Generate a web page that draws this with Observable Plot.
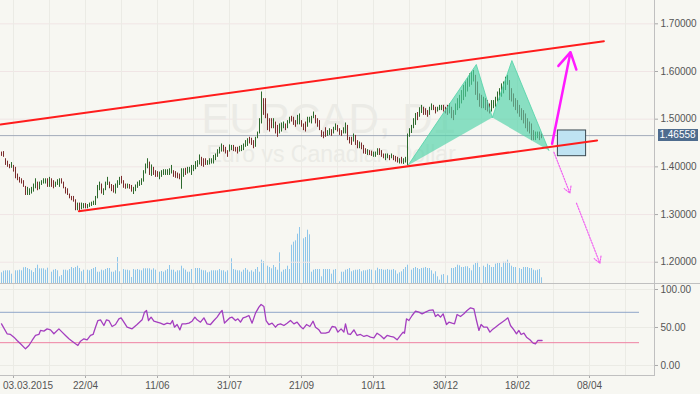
<!DOCTYPE html>
<html><head><meta charset="utf-8">
<script src="https://cdn.jsdelivr.net/npm/d3@7"></script>
<script src="https://cdn.jsdelivr.net/npm/@observablehq/plot@0.6"></script>
<style>
body{margin:0;background:#f7f7f2;}
#chart{position:relative;width:700px;height:394px;background:#f7f7f2;overflow:hidden;font-family:"Liberation Sans",Arial,sans-serif;}
#chart svg{position:absolute;left:0;}
.ln{position:absolute;background:#c0c0c0;}
#curlab{position:absolute;background:#4e6c8e;color:#fff;font-size:10px;text-align:center;}
</style></head><body><div id="chart"></div>
<script>
// ---- OHLC bars (daily, EURCAD) ----
const hi = [
1.431,1.432,1.417,1.412,1.405,1.409,1.403,1.399,1.385,1.378,
1.375,1.371,1.359,1.357,1.354,1.357,1.364,1.375,1.368,1.368,
1.371,1.375,1.375,1.375,1.378,1.375,1.371,1.368,1.373,1.375,
1.375,1.368,1.357,1.354,1.343,1.338,1.338,1.331,1.324,1.324,
1.324,1.323,1.323,1.321,1.324,1.326,1.328,1.338,1.361,1.368,
1.364,1.354,1.368,1.378,1.368,1.363,1.361,1.364,1.371,1.378,
1.380,1.371,1.364,1.364,1.363,1.361,1.357,1.362,1.368,1.371,
1.375,1.392,1.406,1.417,1.410,1.404,1.399,1.392,1.390,1.389,
1.392,1.394,1.394,1.394,1.396,1.403,1.392,1.390,1.387,1.385,
1.396,1.396,1.397,1.399,1.399,1.403,1.403,1.411,1.413,1.425,
1.420,1.417,1.417,1.413,1.417,1.417,1.424,1.427,1.436,1.441,
1.448,1.445,1.441,1.434,1.446,1.445,1.445,1.441,1.441,1.443,
1.445,1.448,1.455,1.459,1.462,1.460,1.455,1.462,1.473,1.501,
1.557,1.543,1.543,1.511,1.501,1.501,1.501,1.494,1.487,1.490,
1.492,1.494,1.490,1.497,1.504,1.506,1.504,1.497,1.508,1.511,
1.497,1.490,1.494,1.504,1.504,1.506,1.515,1.508,1.501,1.497,
1.476,1.473,1.482,1.476,1.480,1.478,1.483,1.490,1.487,1.480,
1.476,1.482,1.492,1.487,1.462,1.462,1.469,1.466,1.455,1.452,
1.450,1.445,1.438,1.436,1.434,1.433,1.431,1.431,1.438,1.438,
1.434,1.427,1.427,1.427,1.424,1.427,1.424,1.422,1.420,1.417,
1.420,1.417,1.420,1.469,1.480,1.487,1.501,1.512,1.514,1.524,
1.529,1.525,1.522,1.518,1.525,1.532,1.529,1.525,1.525,1.529,
1.529,1.529,1.525,1.529,1.532,1.525,1.518,1.532,1.543,1.550,
1.560,1.571,1.578,1.585,1.595,1.599,1.602,1.592,1.578,1.553,
1.550,1.546,1.543,1.539,1.532,1.539,1.539,1.546,1.557,1.564,
1.574,1.578,1.588,1.592,1.581,1.564,1.553,1.543,1.539,1.529,
1.522,1.518,1.511,1.501,1.494,1.490,1.476,1.473,1.473,1.473,
1.469];
const lo = [
1.422,1.420,1.403,1.399,1.396,1.397,1.389,1.375,1.371,1.366,
1.364,1.357,1.340,1.340,1.340,1.343,1.347,1.354,1.350,1.352,
1.361,1.364,1.364,1.357,1.357,1.357,1.354,1.357,1.361,1.357,
1.364,1.354,1.343,1.340,1.333,1.329,1.326,1.308,1.308,1.305,
1.310,1.312,1.312,1.312,1.315,1.317,1.319,1.319,1.333,1.350,
1.343,1.340,1.350,1.361,1.354,1.348,1.345,1.343,1.355,1.361,
1.364,1.355,1.353,1.354,1.353,1.347,1.342,1.348,1.355,1.359,
1.361,1.368,1.385,1.396,1.382,1.380,1.382,1.378,1.378,1.373,
1.378,1.382,1.382,1.382,1.382,1.385,1.378,1.376,1.375,1.373,
1.353,1.378,1.382,1.385,1.387,1.382,1.390,1.394,1.399,1.404,
1.401,1.399,1.403,1.403,1.404,1.406,1.406,1.413,1.420,1.427,
1.431,1.431,1.427,1.420,1.431,1.434,1.432,1.431,1.427,1.431,
1.432,1.434,1.441,1.443,1.448,1.445,1.438,1.441,1.459,1.469,
1.490,1.508,1.501,1.476,1.473,1.480,1.480,1.469,1.462,1.469,
1.473,1.480,1.476,1.480,1.490,1.494,1.487,1.483,1.488,1.488,
1.483,1.476,1.473,1.483,1.492,1.490,1.501,1.490,1.483,1.476,
1.462,1.459,1.462,1.464,1.466,1.464,1.469,1.476,1.473,1.466,
1.464,1.469,1.469,1.455,1.448,1.445,1.452,1.445,1.438,1.438,
1.436,1.427,1.426,1.424,1.424,1.422,1.420,1.420,1.424,1.424,
1.420,1.417,1.413,1.417,1.413,1.417,1.413,1.410,1.408,1.406,
1.406,1.405,1.408,1.403,1.462,1.470,1.480,1.487,1.497,1.504,
1.512,1.508,1.508,1.504,1.508,1.518,1.518,1.511,1.515,1.518,
1.518,1.515,1.511,1.508,1.511,1.501,1.497,1.508,1.518,1.522,
1.532,1.539,1.546,1.557,1.567,1.571,1.578,1.550,1.539,1.525,
1.522,1.522,1.518,1.515,1.511,1.515,1.522,1.525,1.536,1.539,
1.546,1.553,1.560,1.571,1.539,1.536,1.525,1.518,1.511,1.504,
1.497,1.490,1.480,1.473,1.469,1.455,1.455,1.455,1.459,1.455,
1.459];
// 1 = bullish bar, 0 = bearish bar
const up = [
0,0,0,0,0,1,0,0,0,0, 0,0,0,1,1,1,1,1,0,1, 1,1,1,0,1,0,0,1,1,1, 0,0,0,0,0,0,0,0,1,0,
1,1,0,1,1,1,1,1,1,1, 0,1,1,1,0,0,0,1,1,1, 0,0,0,1,0,0,1,1,1,1, 1,1,1,1,0,1,0,0,0,1,
1,1,1,1,1,1,0,0,0,0, 1,1,0,1,1,1,1,1,1,1, 0,0,0,1,1,1,1,1,1,1, 1,0,0,0,1,1,0,0,0,1,
1,1,1,1,0,0,0,1,1,1, 1,0,0,0,0,0,1,0,0,1, 1,1,0,1,1,0,0,0,1,1, 0,0,0,1,1,1,1,0,0,0,
0,0,0,1,1,0,1,1,0,0, 0,1,1,0,0,0,1,0,0,1, 0,0,0,1,0,0,1,1,1,0, 0,0,1,1,0,1,0,0,0,1,
0,1,1,1,1,1,1,1,0,1, 1,0,0,0,1,1,0,0,1,1, 1,0,0,0,1,0,0,1,1,1, 1,1,1,1,1,1,1,0,0,0,
0,1,0,0,0,1,1,1,1,1, 1,1,1,1,0,0,0,0,0,0, 0,0,0,0,0,0,0,1,1,0, 0];
// tick volume (relative units)
const volume = [
10.7,12.3,12.7,12.7,12.7,9.3,11.3,12.7,12.7,13.3,
12.7,15.7,16,15,14,12.7,11,15,18.3,14.7,
14.7,14.7,13.3,15.3,14,11.3,13.3,14,12.7,6.7,
8,13.3,13.3,12.7,14,16,15,16,17.3,15,
11.7,13.3,13.3,13.3,12.7,14,15,16,11.3,11.3,
13.3,12.7,14,15,15,11.3,11.3,12.7,26,11.7,
12.7,14,13.3,13.3,12.7,6,14,13.3,14,13.3,
12.7,14.7,14.7,14.7,14.7,13.3,14.7,13.3,12,11.3,
12,11.3,12.7,14,18,13.3,13.3,11.3,12.7,12.7,
17.3,14.7,13.3,11.3,11.3,14,16,15,15,15,
13.3,12.7,12.7,10.7,11.3,12.7,12.7,12.7,12.7,14,
12.7,12.7,11.3,12.7,14,24.7,14,13.3,12.7,12.7,
11.3,13.3,15,13.3,11.3,12.7,11.3,14,16,11.3,
23.3,22,21.3,17.3,16,14.7,18,16,13.3,30.7,
11.3,13.3,14,17.3,14,38.3,41.3,42.7,49.3,56,
45,44.7,46,53.3,48.7,11.3,13.3,14,14,14,
6.7,14,14,14,14,9.3,13.3,14,14,1.7,
11.3,11.3,13.3,14,15,11.7,12.7,13.3,13.3,14,
11.7,12.7,12.7,13.3,14,13.3,11.7,12.7,15.3,14,
14,13.3,13.3,14,13.3,13.3,14,12.7,9.3,10.7,
11.7,14,16,18.3,18.3,13.3,15,16,15,14,
15,15.3,16,15,15,12.7,9.3,11.7,6.7,3.3,
8.3,9,9,7.7,0,15,15,16,18.3,17.7,
16,16,16.7,16.7,15,12.7,18.3,20,21.3,16,
16,17.3,16,19.3,18,16,16,19.3,20,20,
16,21.3,21.3,23.3,20,17.3,16,16,16,15,
14,16,16,16,15,15,13.3,12.7,13.3,14,
5.7];
// RSI readings (bar position, value)
const rsiBar = [0,2.8,4.5,6.2,7.8,9.5,12,13.7,15.3,17,18.7,19.5,21.2,22.8,24.5,26.2,28.7,30.3,32,33.7,
35.3,37,38.2,39.5,41.2,42.8,44.5,45.8,47,48.2,49.5,51.2,52.5,53.7,55.3,57,58.7,59.8,61.2,62.8,
65.3,67.8,70.3,71.5,72.5,73.5,74.8,76.2,77.8,79.5,81.2,82.8,84.5,85.5,86.5,87.8,89.2,90.3,92,93.7,
95.3,96.7,97.8,99.5,101.2,102.8,104.5,106.2,107.8,109.5,110.3,111.5,112.8,114.2,115.3,117,118.2,119.5,120.8,122,
123.7,125.3,127,128.7,129.8,131.2,132.3,133.7,135.3,137,138.2,139.5,141.2,142.8,144.5,146.2,147.8,149.5,150.8,152.5,
154.2,155.8,157,158.7,159.8,162,163.7,165.3,167,168.2,169.8,171.2,172,173.2,174.5,
176.2,177.8,179.5,181.2,182.8,184.5,186.2,187.8,189.5,191.2,192.8,194.5,196.2,197.8,199.5,200.8,201.5,202.5,203.7,205.3,
207,208.7,210.3,212,213.7,215.8,217,218.2,219.5,220.8,222.5,223.7,225.3,226.5,227.8,229.5,231.2,232.8,234.5,236.2,
237.5,238.7,239.8,241.2,242.8,244.2,245.3,247,248.7,250.3,252,253.2,254.5,256.2,257.5,258.7,259.8,261.2,262.5,264.2,
265.8,267,268.2,270.3];
const rsiVal = [54.8,41.7,40.8,37.3,32.9,28.5,21.9,26.3,32.9,39.5,40.8,46.1,45.2,48.2,46.9,41.7,48.2,43.9,39.5,35.1,
32.0,28.5,26.3,32.0,35.1,33.8,39.5,40.8,50.4,59.2,60.1,52.6,60.1,59.2,51.3,53.9,61.4,62.7,57.0,50.4,
48.2,53.9,60.1,70.2,72.4,59.2,63.6,58.3,57.0,55.7,53.9,55.7,54.8,59.2,50.4,53.9,46.9,54.8,54.8,55.7,
58.3,63.6,60.1,57.0,62.7,54.8,53.9,59.2,63.6,70.2,72.4,55.7,59.2,62.7,63.6,59.2,61.4,57.0,62.7,63.6,
65.8,55.7,68.9,76.8,80.3,77.6,59.2,53.9,55.7,50.4,53.9,54.8,52.6,55.7,59.2,54.8,57.0,51.3,48.2,53.9,
51.3,58.3,50.4,46.9,42.5,42.5,43.9,51.3,50.4,43.9,48.2,43.9,54.8,41.7,40.8,
46.9,39.5,40.8,38.2,39.5,37.3,36.4,42.5,39.5,35.1,39.5,38.2,37.3,33.8,39.5,43.9,42.5,61.4,59.2,65.8,
71.5,70.2,68.0,70.2,72.4,73.2,64.5,67.1,63.6,68.0,53.9,57.0,55.7,54.8,67.1,64.5,68.0,72.4,75.9,74.6,
59.2,46.1,53.9,50.4,50.4,43.9,46.9,50.4,53.9,57.0,60.1,62.7,52.6,46.9,41.7,46.1,40.8,42.5,37.3,33.8,
29.4,28.5,32.9,32.9];
const rsiLevels = [70, 30];
// axes
const tickBars = [6, 42, 78, 114, 150, 186, 222, 258, 294];
const tickLabels = ["03.03.2015","22/04","11/06","31/07","21/09","10/11","30/12","18/02","08/04"];
const priceTicks = [1.2, 1.3, 1.4, 1.5, 1.6, 1.7];
const rsiTicks = [0, 50, 100];
const current = 1.46558;
const symbol = "EURCAD, D1";
const description = "Euro vs Canadian Dollar";
// drawings (bar position, price)
const channelBar   = [-0.5, 301.2, 38.7, 297.8];
const channelPrice = [1.4888, 1.6635, 1.3070, 1.4553];
const channelName  = ["upper","upper","lower","lower"];
const patternName  = ["X","A","B","C","D"];
const patternBar   = [203.2, 237.4, 245.4, 255.2, 273.7];
const patternPrice = [1.4028, 1.6147, 1.5035, 1.6230, 1.4343];
const targetBox = {bar1: 278.2, bar2: 292.3, price1: 1.4224, price2: 1.4763};
const bullArrow = [{bar1: 275.3, price1: 1.4484, bar2: 284.5, price2: 1.6405}];
const bearArrows = [
  {bar1: 276.2, price1: 1.4307, bar2: 284.2, price2: 1.3449},
  {bar1: 287.5, price1: 1.3238, bar2: 299.2, price2: 1.1979}
];

// ---- build ----
const bars = hi.map((h, i) => ({i, hi: h, lo: lo[i], up: up[i], vol: volume[i]}));
const rsiPts = rsiBar.map((b, k) => ({bar: b, rsi: rsiVal[k]}));
const channelPts = channelBar.map((b, k) => ({bar: b, price: channelPrice[k], line: channelName[k]}));
const P = Object.fromEntries(patternName.map((n, k) => [n, {bar: patternBar[k], price: patternPrice[k]}]));
const patternPts = [["X","A","B"],["B","C","D"]].flatMap((tri, t) => tri.map(n => ({...P[n], leg: t})));
const labelOf = new Map(tickBars.map((b, k) => [b, tickLabels[k]]));
const gridBars = d3.range(6, 320, 18);
const xDomain = [-0.5, 326.5];
const FONT = "Liberation Sans, Arial, sans-serif";
const base = {
  width: 700, marginLeft: 0, marginRight: 46,
  style: {background: "transparent", overflow: "visible", fontFamily: FONT, fontSize: "10px", color: "#555"}
};
const GREEN = "#2d6a2d", RED = "#7b2d2d";
const chart = document.getElementById("chart");

const volPlot = Plot.plot({
  ...base, height: 84, marginTop: 0, marginBottom: 0,
  x: {domain: xDomain, axis: null},
  y: {domain: [0, 84], axis: null},
  marks: [Plot.ruleX(bars, {x: "i", y1: 0, y2: "vol", stroke: "#8ec6ea", strokeWidth: 1})]
});
volPlot.style.top = "199px";
chart.appendChild(volPlot);

const pricePlot = Plot.plot({
  ...base, height: 284, marginTop: 0, marginBottom: 0,
  x: {domain: xDomain, axis: null, label: null},
  y: {domain: [1.1533, 1.7489], axis: null, label: null},
  marks: [
    Plot.gridY(priceTicks, {stroke: "#f0e5e5", strokeOpacity: 1}),
    Plot.gridX(gridBars, {stroke: "#ebebe5", strokeOpacity: 1}),
    Plot.text([symbol], {text: d => d, frameAnchor: "top-left", textAnchor: "start", lineAnchor: "top",
      dx: 201, dy: 103, fontSize: 42, fontFamily: FONT, fill: "#ebebe6"}),
    Plot.text([description], {text: d => d, frameAnchor: "top-left", textAnchor: "start", lineAnchor: "top",
      dx: 206, dy: 145, fontSize: 23, fontFamily: FONT, fill: "#ebebe6"}),
    Plot.ruleY([current], {stroke: "#a3acbb", strokeWidth: 1}),
    Plot.ruleX(bars, {x: "i", y1: "lo", y2: "hi", stroke: d => d.up ? GREEN : RED, strokeWidth: 1}),
    Plot.line(patternPts, {x: "bar", y: "price", z: "leg", fill: "#4fd3a8", fillOpacity: 0.65,
      stroke: "#4fd3a8", strokeOpacity: 0.8, strokeWidth: 1}),
    Plot.rect([targetBox], {x1: "bar1", x2: "bar2", y1: "price1", y2: "price2",
      fill: "#bfe3f2", stroke: "#3a4a52", strokeWidth: 1}),
    Plot.line(channelPts, {x: "bar", y: "price", z: "line", stroke: "#ff1c1c", strokeWidth: 2}),
    Plot.arrow(bullArrow, {x1: "bar1", y1: "price1", x2: "bar2", y2: "price2",
      stroke: "#ff1aff", strokeWidth: 2.5, headLength: 11}),
    Plot.arrow(bearArrows, {x1: "bar1", y1: "price1", x2: "bar2", y2: "price2",
      stroke: "#f060f0", strokeWidth: 1.2, strokeDasharray: "1.4 1.4", headLength: 9}),
    Plot.axisY(priceTicks, {anchor: "right", label: null, tickSize: 3, tickPadding: 3,
      tickFormat: d => d.toFixed(5), stroke: "#aaa", fill: "#555"})
  ]
});
pricePlot.style.top = "0px";
chart.appendChild(pricePlot);

const rsiPlot = Plot.plot({
  ...base, height: 110, marginTop: 0, marginBottom: 19,
  x: {domain: xDomain, axis: null, label: null},
  y: {domain: [-13.2, 106.6], axis: null, label: null},
  marks: [
    Plot.gridY(rsiTicks, {stroke: "#ebebe5", strokeOpacity: 1}),
    Plot.gridX(gridBars, {stroke: "#ebebe5", strokeOpacity: 1}),
    Plot.ruleY([rsiLevels[0]], {stroke: "#8fa6c8", strokeWidth: 1, insetRight: 15}),
    Plot.ruleY([rsiLevels[1]], {stroke: "#ef82a2", strokeWidth: 1, insetRight: 15}),
    Plot.line(rsiPts, {x: "bar", y: "rsi", stroke: "#a43ebf", strokeWidth: 1.3}),
    Plot.axisY(rsiTicks, {anchor: "right", label: null, tickSize: 3, tickPadding: 3,
      tickFormat: d => d.toFixed(2), stroke: "#aaa", fill: "#555"}),
    Plot.axisX(tickBars, {anchor: "bottom", label: null, tickSize: 3, tickPadding: 3,
      tickFormat: d => d === tickBars[0] ? "" : labelOf.get(d), stroke: "#aaa", fill: "#555"}),
    Plot.text([tickBars[0]], {x: d => d, text: d => labelOf.get(d), frameAnchor: "bottom",
      textAnchor: "start", lineAnchor: "top", dx: -10.5, dy: 6, fill: "#555", fontFamily: FONT})
  ]
});
rsiPlot.style.top = "284px";
chart.appendChild(rsiPlot);

// panel frame lines
function line(l, t, w, h) {
  const d = document.createElement("div");
  d.className = "ln";
  Object.assign(d.style, {left: l + "px", top: t + "px", width: w + "px", height: h + "px"});
  chart.appendChild(d);
}
line(654, 0, 1, 376);
line(0, 283, 700, 1);
line(0, 375, 655, 1);

// current price label
const yCur = pricePlot.scale("y").apply(current);
const lab = document.createElement("div");
lab.id = "curlab";
lab.textContent = current.toFixed(5);
Object.assign(lab.style, {left: "657.5px", top: (yCur - 6.2) + "px", width: "40px", height: "12.5px", lineHeight: "12.5px"});
chart.appendChild(lab);
</script></body></html>
